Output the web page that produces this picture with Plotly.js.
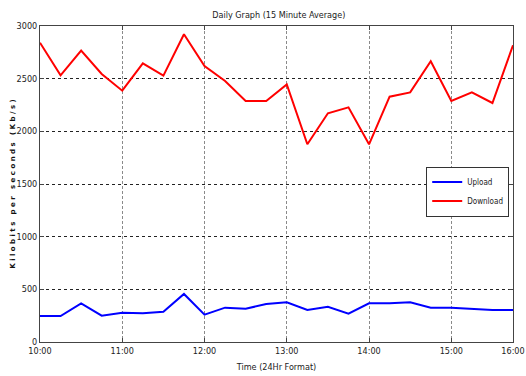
<!DOCTYPE html>
<html>
<head>
<meta charset="utf-8">
<script src="https://cdn.plot.ly/plotly-3.0.1.min.js"></script>
<style>html,body{margin:0;padding:0;background:#fff;}#chart{width:526px;height:376px;}</style>
</head>
<body>
<div id="chart"></div>
<script>
// 15-minute samples from 10:00 to 15:45 (index 0..23)
var sampleIndex = [0,1,2,3,4,5,6,7,8,9,10,11,12,13,14,15,16,17,18,19,20,21,22,23];
var uploadKbps = [247,247,367,250,278,272,288,456,260,326,316,360,377,304,335,269,367,367,377,326,326,316,304,304];
var downloadKbps = [2841,2532,2766,2544,2386,2646,2529,2921,2620,2478,2288,2288,2446,1877,2171,2228,1877,2329,2370,2665,2288,2370,2269,2817];
var tickPositions = [0,4,8,12,16,20,23];
var tickLabels = ["10:00","11:00","12:00","13:00","14:00","15:00","16:00"];
var yTicks = [0,500,1000,1500,2000,2500,3000];

var narrow = "'Liberation Sans Narrow', 'DejaVu Sans Condensed', 'Arial Narrow', sans-serif";

var traces = [
  {x: sampleIndex, y: uploadKbps, type: 'scatter', mode: 'lines', name: 'Upload',
   line: {color: '#0000ff', width: 2}},
  {x: sampleIndex, y: downloadKbps, type: 'scatter', mode: 'lines', name: 'Download',
   line: {color: '#ff0000', width: 2}}
];

var layout = {
  width: 526, height: 376,
  margin: {l: 40, r: 13, t: 26, b: 34},
  paper_bgcolor: '#fff', plot_bgcolor: '#fff',
  font: {family: narrow, size: 9, color: '#222'},
  title: {text: 'Daily Graph (15 Minute Average)', x: 0.53, xanchor: 'center', y: 0.96, yanchor: 'middle',
          font: {family: narrow, size: 9, color: '#222'}},
  xaxis: {
    range: [0, 23], tickvals: tickPositions, ticktext: tickLabels,
    showgrid: true, gridcolor: '#8a8a8a', griddash: '3px,2px', gridwidth: 1,
    showline: true, linecolor: '#444', linewidth: 1, mirror: 'allticks',
    ticks: 'inside', ticklen: 4, tickcolor: '#444', zeroline: false,
    ticklabeloverflow: 'allow', automargin: false,
    tickfont: {family: narrow, size: 9, color: '#222'},
    title: {text: 'Time (24Hr Format)', standoff: 8, font: {family: narrow, size: 9, color: '#222'}}
  },
  yaxis: {
    range: [0, 3000], tickvals: yTicks,
    showgrid: true, gridcolor: '#222', griddash: 'dot', gridwidth: 1,
    showline: true, linecolor: '#444', linewidth: 1, mirror: 'allticks',
    ticks: 'inside', ticklen: 4, tickcolor: '#444', zeroline: false,
    tickfont: {family: narrow, size: 9, color: '#222'},
    title: {text: '<b>K i l o b i t s   p e r   s e c o n d s   ( K b / s )</b>', standoff: 0,
            font: {family: "'DejaVu Sans', sans-serif", size: 7, color: '#111'}}
  },
  legend: {
    x: 0.992, y: 0.555, xanchor: 'right', yanchor: 'top',
    bgcolor: '#fff', bordercolor: '#333', borderwidth: 1,
    font: {family: narrow, size: 8, color: '#222'},
    itemwidth: 30, tracegroupgap: 0
  },
  showlegend: true
};

Plotly.newPlot('chart', traces, layout, {displayModeBar: false, staticPlot: true});
</script>
</body>
</html>
